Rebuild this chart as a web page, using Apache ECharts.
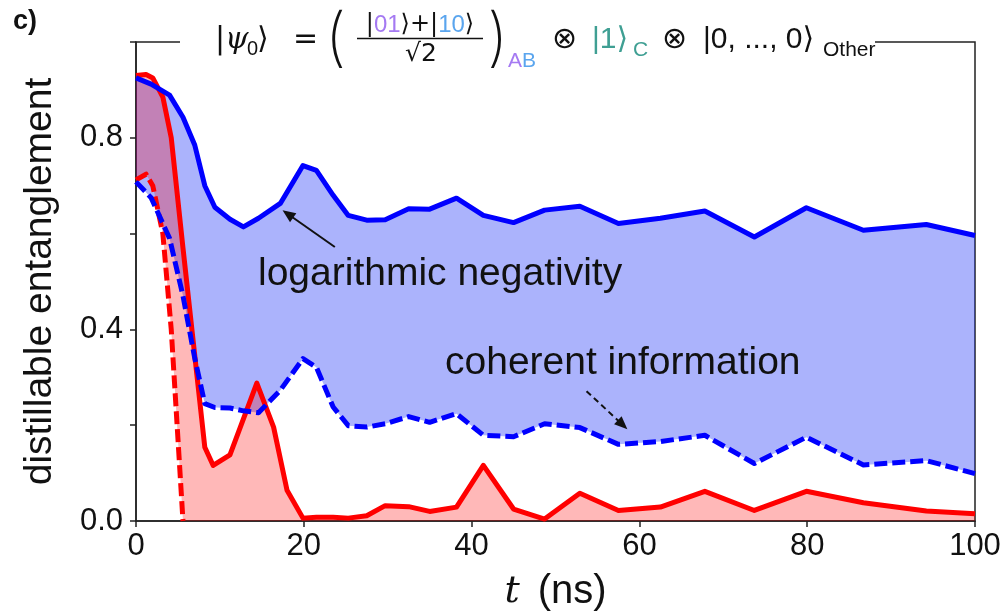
<!DOCTYPE html>
<html>
<head>
<meta charset="utf-8">
<script src="https://cdn.jsdelivr.net/npm/echarts@6/dist/echarts.min.js"></script>
<style>
  html, body { margin: 0; padding: 0; background: #fff; }
  #chart_ent { width: 1003px; height: 613px; }
</style>
</head>
<body>
<div id="chart_ent"></div>
<script>
var myChart = echarts.init(document.getElementById('chart_ent'));
var fontsty = '"Liberation Sans", "DejaVu Sans", Arial, sans-serif';
var mathsty = '"DejaVu Sans", "Liberation Sans", sans-serif';

// time grid shared by both blue curves (ns)
var tBlue = [0, 1.8, 4.0, 5.6, 7.0, 8.2, 9.4, 11.2, 12.8, 14.6, 17.2, 19.9, 21.5, 23.5, 25.3, 27.5, 29.7, 32.5, 35.0, 38.2,
  41.4, 45.0, 48.7, 52.9, 57.5, 62.5, 67.8, 73.7, 79.9, 86.7, 94.2, 100];
var negBlue = [0.925, 0.912, 0.889, 0.843, 0.785, 0.70, 0.655, 0.630, 0.614, 0.632, 0.663, 0.742, 0.732, 0.68, 0.638, 0.628, 0.629, 0.652, 0.651, 0.674,
  0.638, 0.623, 0.649, 0.657, 0.621, 0.632, 0.647, 0.593, 0.654, 0.607, 0.619, 0.596];
var cohBlue = [0.708, 0.675, 0.59, 0.47, 0.34, 0.245, 0.237, 0.236, 0.230, 0.226, 0.273, 0.339, 0.321, 0.238, 0.199, 0.196, 0.203, 0.218, 0.206, 0.224,
  0.179, 0.176, 0.203, 0.195, 0.160, 0.166, 0.179, 0.120, 0.175, 0.117, 0.126, 0.099];

// time grid of the red curves (ns); coherent info only until it reaches 0
var tRed = [0, 1.2, 2.0, 3.2, 4.2, 5.6, 8.2, 9.2, 11.2, 14.4, 16.4, 18.0, 19.9, 21.5, 23.5, 25.3, 27.5, 29.7, 32.5, 35.0,
  38.2, 41.4, 45.0, 48.7, 52.9, 57.5, 62.5, 67.8, 73.7, 79.9, 86.7, 94.2, 100];
var negRed = [0.930, 0.932, 0.925, 0.885, 0.800, 0.570, 0.154, 0.116, 0.138, 0.288, 0.196, 0.064, 0.006, 0.008, 0.008, 0.006, 0.011, 0.032, 0.030, 0.020,
  0.029, 0.116, 0.025, 0.004, 0.058, 0.022, 0.029, 0.062, 0.022, 0.062, 0.038, 0.021, 0.015];
var cohRed = [0.712, 0.724, 0.70, 0.60, 0.40, 0.0];

var xTicks = [0, 20, 40, 60, 80, 100];
var yTickLabels = ['0.0', '0.4', '0.8'];

// arrow annotations, data coords [t, value]: tail -> head
var arrowNeg = [[23.7, 0.572], [18.1, 0.641]];
var arrowCoh = [[53.7, 0.271], [58.0, 0.201]];

function pairs(t, v) {
  var out = [];
  for (var i = 0; i < v.length; i++) out.push([t[i], v[i]]);
  return out;
}
// [t, lower, upper] rows for a filled band; lower is 0 where it is not given
function bandRows(t, lower, upper) {
  var out = [];
  for (var i = 0; i < upper.length; i++) out.push([t[i], i < lower.length ? lower[i] : 0, upper[i]]);
  return out;
}
function bandSeries(rows, fill) {
  return {
    type: 'custom', silent: true, clip: true,
    encode: { x: 0, y: [1, 2] },
    data: rows,
    renderItem: function (params, api) {
      if (params.dataIndex !== 0) return null;
      var pts = [], i;
      for (i = 0; i < rows.length; i++) pts.push(api.coord([rows[i][0], rows[i][2]]));
      for (i = rows.length - 1; i >= 0; i--) pts.push(api.coord([rows[i][0], rows[i][1]]));
      return { type: 'polygon', shape: { points: pts }, style: { fill: fill } };
    }
  };
}
function tx(x, y, text, font, color, align) {
  return {
    type: 'text', z: 101, silent: true,
    style: { x: x, y: y, text: text, font: font, fill: color || '#111', align: align || 'left', verticalAlign: 'middle' }
  };
}

var option = {
  backgroundColor: '#fff',
  animation: false,
  grid: {
    left: 136, right: 28, top: 42, bottom: 92, containLabel: false, outerBoundsMode: 'none',
    show: true, borderColor: '#222', borderWidth: 1.5, backgroundColor: 'transparent'
  },
  xAxis: {
    type: 'value', min: 0, max: 100, interval: 20,
    name: '{t|t}{n|(ns)}',
    nameLocation: 'middle', nameGap: 51,
    nameTextStyle: {
      rich: {
        t: { fontFamily: '"DejaVu Serif", serif', fontStyle: 'italic', fontSize: 38, color: '#111', padding: [0, 18, 0, 0] },
        n: { fontFamily: fontsty, fontSize: 40, color: '#111' }
      }
    },
    axisLine: { lineStyle: { color: '#222', width: 1.5 } },
    axisTick: { length: 6, lineStyle: { color: '#222', width: 1.5 } },
    splitLine: { show: false },
    axisLabel: {
      margin: 10, fontSize: 31, fontFamily: fontsty, color: '#111',
      formatter: function (v) { return xTicks.indexOf(v) >= 0 ? String(v) : ''; }
    }
  },
  yAxis: {
    type: 'value', min: 0, max: 1, interval: 0.2,
    name: 'distillable entanglement',
    nameLocation: 'middle', nameGap: 76,
    nameTextStyle: { fontFamily: fontsty, fontSize: 39, color: '#111' },
    axisLine: { show: true, lineStyle: { color: '#222', width: 1.5 } },
    axisTick: { show: true, length: 6, lineStyle: { color: '#222', width: 1.5 } },
    splitLine: { show: false },
    axisLabel: {
      margin: 13, fontSize: 31, fontFamily: fontsty, color: '#111',
      formatter: function (v) { var s = v.toFixed(1); return yTickLabels.indexOf(s) >= 0 ? s : ''; }
    }
  },
  series: [
    bandSeries(bandRows(tBlue, cohBlue, negBlue), 'rgba(0,25,245,0.33)'),
    bandSeries(bandRows(tRed, cohRed, negRed), 'rgba(255,0,0,0.28)'),
    {
      name: 'coherent information (red)', type: 'line', symbol: 'none',
      data: pairs(tRed, cohRed),
      lineStyle: { color: '#ff0000', width: 5, type: [13, 5], cap: 'butt', join: 'round' }
    },
    {
      name: 'logarithmic negativity (red)', type: 'line', symbol: 'none',
      data: pairs(tRed, negRed),
      lineStyle: { color: '#ff0000', width: 5, join: 'round' }
    },
    {
      name: 'coherent information (blue)', type: 'line', symbol: 'none',
      data: pairs(tBlue, cohBlue),
      lineStyle: { color: '#0000ff', width: 5, type: [13, 5], cap: 'butt', join: 'round' }
    },
    {
      name: 'logarithmic negativity (blue)', type: 'line', symbol: 'none',
      data: pairs(tBlue, negBlue),
      lineStyle: { color: '#0000ff', width: 5, join: 'round' },
      markLine: {
        silent: true, animation: false,
        symbol: ['none', 'triangle'], symbolSize: [11, 13],
        label: { show: false },
        emphasis: { disabled: true },
        data: [
          [{ coord: arrowNeg[0], lineStyle: { color: '#111', width: 2, type: 'solid' } }, { coord: arrowNeg[1] }],
          [{ coord: arrowCoh[0], lineStyle: { color: '#111', width: 2, type: [6, 4] } }, { coord: arrowCoh[1] }]
        ]
      }
    }
  ],
  graphic: [
    { type: 'rect', z: 100, silent: true, shape: { x: 180, y: 34, width: 695, height: 14 }, style: { fill: '#fff' } },
    tx(13, 22, 'c)', 'bold 27px ' + fontsty),
    tx(258, 274, 'logarithmic negativity', '39px ' + fontsty),
    tx(445, 363, 'coherent information', '39px ' + fontsty),
    // state in the header
    tx(215, 40, '|', '30px ' + mathsty),
    tx(225, 40, 'ψ', 'italic 30px "DejaVu Serif", serif'),
    tx(247, 49, '0', '20px ' + fontsty),
    tx(257, 40, '⟩', '30px ' + mathsty),
    tx(293, 40, '=', '30px ' + mathsty),
    tx(325, 40, '(', '200 64px Inter, ' + fontsty),
    {
      type: 'text', z: 101, silent: true,
      style: {
        x: 420, y: 25, align: 'center', verticalAlign: 'middle',
        text: '{k||}{p|01}{k|⟩+|}{b|10}{k|⟩}',
        font: '24px ' + mathsty, fill: '#111',
        rich: {
          k: { fill: '#111', font: '24px ' + mathsty },
          p: { fill: '#a57af2', font: '24px ' + fontsty },
          b: { fill: '#5aa5ee', font: '24px ' + fontsty }
        }
      }
    },
    { type: 'line', z: 101, silent: true, shape: { x1: 357, y1: 38.5, x2: 483, y2: 38.5 }, style: { stroke: '#111', lineWidth: 1.5 } },
    tx(421, 54, '√2', '25px ' + mathsty, '#111', 'center'),
    tx(487, 40, ')', '200 64px Inter, ' + fontsty),
    {
      type: 'text', z: 101, silent: true,
      style: {
        x: 508, y: 61, align: 'left', verticalAlign: 'middle',
        text: '{p|A}{b|B}', font: '21px ' + fontsty,
        rich: {
          p: { fill: '#a57af2', font: '21px ' + fontsty },
          b: { fill: '#5aa5ee', font: '21px ' + fontsty }
        }
      }
    },
    tx(552, 40, '⊗', '30px ' + mathsty),
    tx(592, 40, '|1⟩', '30px ' + fontsty, '#3f9f93'),
    tx(633, 50, 'C', '21px ' + fontsty, '#3f9f93'),
    tx(662, 40, '⊗', '30px ' + mathsty),
    tx(703, 40, '|0, ..., 0⟩', '30px ' + fontsty),
    tx(823, 50, 'Other', '21px ' + fontsty)
  ]
};
myChart.setOption(option);
</script>
</body>
</html>
